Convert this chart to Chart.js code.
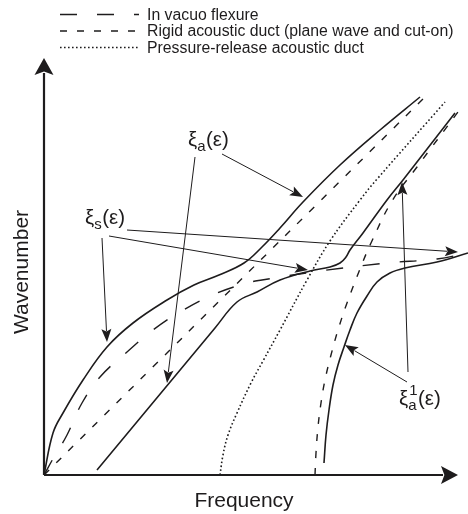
<!DOCTYPE html>
<html>
<head>
<meta charset="utf-8">
<script src="https://cdn.jsdelivr.net/npm/chart.js@4/dist/chart.umd.min.js"></script>
<style>
  html, body { margin: 0; padding: 0; background: #fff; }
  #wrap { width: 468px; height: 514px; position: relative; }
</style>
</head>
<body>
<div id="wrap"><canvas id="dispersionChart"></canvas></div>
<script>
// schematic units: x = frequency, y = wavenumber, origin at the axes corner

// in vacuo flexure (long dash)
const flexureX = [0, 10, 23, 38, 56, 83, 109, 136, 171, 203, 218, 276, 343, 393, 424];
const flexureY = [0, 18, 40, 72, 98, 123, 145, 163, 181, 192, 195, 204, 212, 216, 222];

// rigid duct, plane wave (short dash)
const planeX = [0, 383];
const planeY = [0, 380];

// rigid duct, first cut-on mode (short dash)
const cutOnX = [271, 272, 274, 277, 281, 287, 294, 303, 316, 327, 348, 373, 414];
const cutOnY = [0, 22, 48, 72, 95, 120, 145, 172, 206, 232, 274, 308, 363];

// pressure-release duct (dotted)
const releaseX = [176, 179, 184, 193, 207, 219, 236, 263, 286, 316, 334, 401];
const releaseY = [0, 20, 40, 62, 92, 114, 145, 195, 234, 275, 297, 373];

// coupled branches (solid)
const xiSX = [0, 9, 19, 39, 63, 89, 123, 150, 175, 200, 218, 236, 259, 296, 336, 376];
const xiSY = [0, 42, 62, 95, 128, 152, 175, 190, 200, 212, 228, 247, 273, 310, 345, 378];

const xiAX = [53, 171, 193, 213, 236, 266, 286, 296, 302, 306, 319, 343, 359, 411];
const xiAY = [5, 147, 173, 183, 195, 204, 208, 212, 218, 225, 242, 275, 295, 362];

const xiA1X = [280, 282, 285, 289, 294, 300, 306, 313, 323, 333, 346, 361, 393, 424];
const xiA1Y = [12, 40, 65, 90, 110, 128, 145, 162, 179, 193, 202, 207, 213, 222];

// labels and the arrows that leave them: [fromX, fromY, toX, toY]
const labelNames = ['a', 's', 'a'];
const labelSups = ['', '', '1'];
const labelAt = [[144, 329], [41, 251], [355, 70]];
const labelArrows = [
  [[178, 321, 259, 278], [151, 318, 123, 92]],
  [[83, 245, 414, 223], [65, 239, 264, 205], [58, 237, 63, 133]],
  [[364, 103, 358, 293], [363, 93, 301, 130]]
];

const legendLabels = ['In vacuo flexure', 'Rigid acoustic duct (plane wave and cut-on)', 'Pressure-release acoustic duct'];
const axisTitles = ['Frequency', 'Wavenumber'];

const ink = '#1e1c1d';
const FONT = '"Liberation Sans", Arial, Helvetica, sans-serif';
const longDash = [17, 20];
const shortDash = [7, 10];
const dotDash = [1.6, 2.4];

function pts(xs, ys) {
  return xs.map((x, i) => ({ x: x, y: ys[i] }));
}

function curve(xs, ys, dash, width) {
  return {
    data: pts(xs, ys),
    showLine: true,
    borderColor: ink,
    borderWidth: width,
    borderDash: dash,
    pointRadius: 0,
    tension: 0.4,
    clip: false
  };
}

function arrow(ctx, x1, y1, x2, y2, len, half, width) {
  const a = Math.atan2(y2 - y1, x2 - x1);
  const bx = x2 - Math.cos(a) * len, by = y2 - Math.sin(a) * len;
  ctx.lineWidth = width;
  ctx.beginPath();
  ctx.moveTo(x1, y1);
  ctx.lineTo(bx + Math.cos(a) * 2, by + Math.sin(a) * 2);
  ctx.stroke();
  ctx.beginPath();
  ctx.moveTo(x2, y2);
  ctx.lineTo(bx - Math.sin(a) * half, by + Math.cos(a) * half);
  ctx.lineTo(x2 - Math.cos(a) * len * 0.8, y2 - Math.sin(a) * len * 0.8);
  ctx.lineTo(bx + Math.sin(a) * half, by - Math.cos(a) * half);
  ctx.closePath();
  ctx.fill();
}

function symbol(ctx, x, y, sub, sup) {
  ctx.font = '20.5px ' + FONT;
  ctx.fillText('\u03BE', x, y);
  const w = ctx.measureText('\u03BE').width;
  ctx.font = '15px ' + FONT;
  ctx.fillText(sub, x + w, y + 5);
  let sw = ctx.measureText(sub).width;
  if (sup) {
    ctx.fillText(sup, x + w + 1, y - 10);
    sw = Math.max(sw, ctx.measureText(sup).width + 1);
  }
  ctx.font = '20.5px ' + FONT;
  ctx.fillText('(\u03B5)', x + w + sw + 0.5, y);
}

const decor = {
  id: 'decor',
  afterDraw(chart) {
    const ctx = chart.ctx;
    const sx = chart.scales.x, sy = chart.scales.y;
    const px = v => sx.getPixelForValue(v);
    const py = v => sy.getPixelForValue(v);
    ctx.save();
    ctx.strokeStyle = ink;
    ctx.fillStyle = ink;
    ctx.setLineDash([]);

    // axes with arrowheads
    arrow(ctx, px(0), py(0), px(414), py(0), 17, 9, 2.2);
    arrow(ctx, px(0), py(0), px(0), py(417), 17, 9.5, 2.2);

    // annotation arrows
    labelArrows.forEach(group => group.forEach(a => {
      arrow(ctx, px(a[0]), py(a[1]), px(a[2]), py(a[3]), 13, 5, 1);
    }));

    // symbols
    ctx.textBaseline = 'alphabetic';
    ctx.textAlign = 'left';
    labelAt.forEach((p, i) => symbol(ctx, px(p[0]), py(p[1]), labelNames[i], labelSups[i]));

    // axis titles
    ctx.font = '21px ' + FONT;
    ctx.textAlign = 'center';
    ctx.fillText(axisTitles[0], px(200), 507);
    ctx.save();
    ctx.translate(28, py(203));
    ctx.rotate(-Math.PI / 2);
    ctx.fillText(axisTitles[1], 0, 0);
    ctx.restore();

    // legend
    const dashes = [longDash, shortDash, dotDash];
    ctx.textAlign = 'left';
    ctx.font = '15.8px ' + FONT;
    legendLabels.forEach((t, i) => {
      const base = 19.5 + i * 16.5;
      ctx.setLineDash(dashes[i]);
      ctx.lineWidth = i === 2 ? 1.3 : 1.4;
      ctx.beginPath();
      ctx.moveTo(60, base - 5);
      ctx.lineTo(139, base - 5);
      ctx.stroke();
      ctx.setLineDash([]);
      ctx.fillText(t, 147, base);
    });
    ctx.restore();
  }
};

new Chart(document.getElementById('dispersionChart'), {
  type: 'scatter',
  data: {
    datasets: [
      curve(flexureX, flexureY, longDash, 1.4),
      curve(planeX, planeY, shortDash, 1.4),
      curve(cutOnX, cutOnY, shortDash, 1.4),
      curve(releaseX, releaseY, dotDash, 1.6),
      curve(xiSX, xiSY, [], 1.6),
      curve(xiAX, xiAY, [], 1.6),
      curve(xiA1X, xiA1Y, [], 1.6)
    ]
  },
  options: {
    responsive: true,
    maintainAspectRatio: false,
    animation: false,
    layout: { padding: 0 },
    plugins: { legend: { display: false }, tooltip: { enabled: false } },
    scales: {
      x: { type: 'linear', min: -44, max: 424, display: false },
      y: { type: 'linear', min: -39, max: 475, display: false }
    }
  },
  plugins: [decor]
});
</script>
</body>
</html>
